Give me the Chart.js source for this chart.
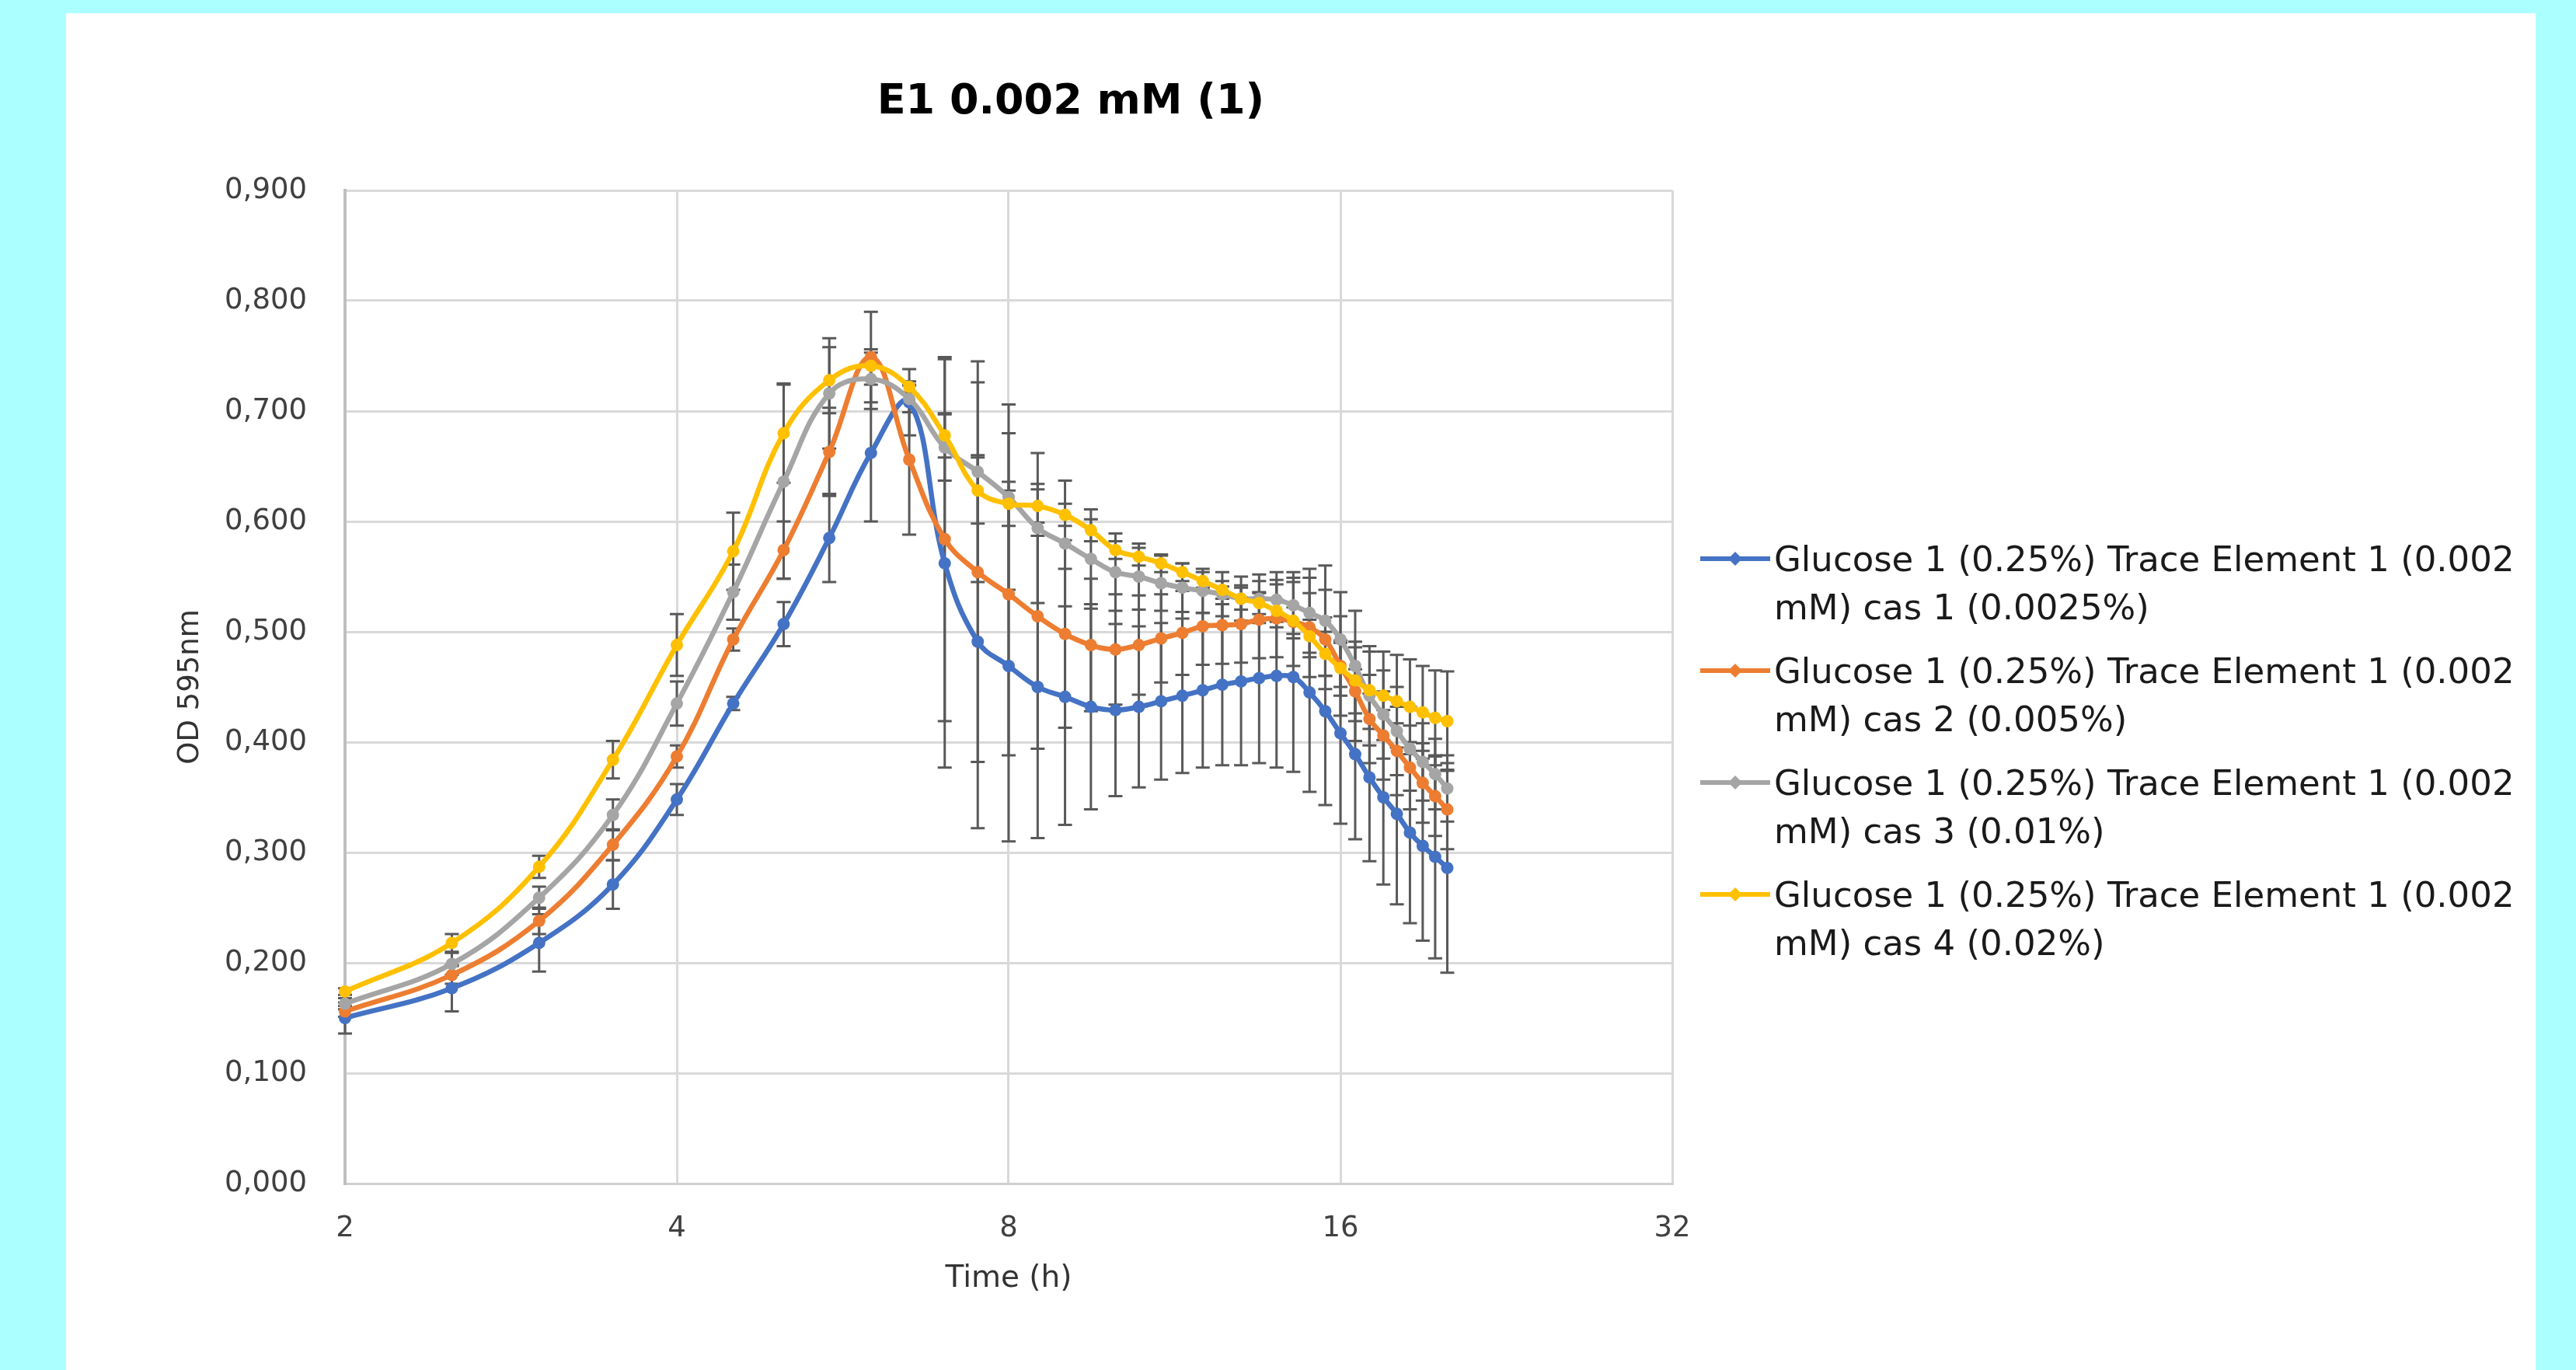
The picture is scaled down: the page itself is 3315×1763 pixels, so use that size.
<!DOCTYPE html>
<html>
<head>
<meta charset="utf-8">
<title>E1 0.002 mM (1)</title>
<script src="https://cdn.jsdelivr.net/npm/chart.js@4.4.1/dist/chart.umd.min.js"></script>
<style>
  html, body { margin: 0; padding: 0; background: #abffff; overflow: hidden; }
  #panel { position: absolute; left: 85px; top: 17px; width: 3178px; height: 1746px; background: #fff; }
  #chart { display: block; }
</style>
</head>
<body>
<div id="panel"><canvas id="chart" width="3178" height="1746"></canvas></div>
<script>
const chartTitle = "E1 0.002 mM (1)";
const xTitle = "Time (h)";
const yTitle = "OD 595nm";

// time points (h)
const hours = [2, 2.5, 3, 3.5, 4, 4.5, 5, 5.5, 6, 6.5, 7, 7.5, 8, 8.5, 9, 9.5, 10, 10.5, 11, 11.5,
  12, 12.5, 13, 13.5, 14, 14.5, 15, 15.5, 16, 16.5, 17, 17.5, 18, 18.5, 19, 19.5, 20];
const xTicks = [2, 4, 8, 16, 32];

const seriesNames = [
  "Glucose 1 (0.25%) Trace Element 1 (0.002 mM) cas 1 (0.0025%)",
  "Glucose 1 (0.25%) Trace Element 1 (0.002 mM) cas 2 (0.005%)",
  "Glucose 1 (0.25%) Trace Element 1 (0.002 mM) cas 3 (0.01%)",
  "Glucose 1 (0.25%) Trace Element 1 (0.002 mM) cas 4 (0.02%)"
];

// OD 595nm means
const cas1 = [0.150, 0.177, 0.218, 0.271, 0.348, 0.435, 0.507, 0.585, 0.662, 0.708, 0.562, 0.491, 0.469, 0.450,
  0.441, 0.432, 0.429, 0.432, 0.437, 0.442, 0.447, 0.452, 0.455, 0.458, 0.460, 0.459, 0.445, 0.428, 0.408,
  0.389, 0.368, 0.350, 0.335, 0.318, 0.306, 0.296, 0.286];
const cas2 = [0.156, 0.189, 0.238, 0.307, 0.387, 0.493, 0.574, 0.663, 0.749, 0.656, 0.584, 0.554, 0.534, 0.514,
  0.498, 0.488, 0.484, 0.488, 0.494, 0.499, 0.505, 0.506, 0.507, 0.511, 0.512, 0.509, 0.504, 0.493, 0.469,
  0.446, 0.421, 0.406, 0.392, 0.377, 0.363, 0.351, 0.339];
const cas3 = [0.163, 0.199, 0.259, 0.334, 0.435, 0.536, 0.636, 0.716, 0.729, 0.711, 0.667, 0.645, 0.622, 0.594,
  0.580, 0.566, 0.554, 0.550, 0.544, 0.540, 0.537, 0.534, 0.530, 0.530, 0.529, 0.524, 0.517, 0.510, 0.493,
  0.469, 0.442, 0.425, 0.410, 0.394, 0.382, 0.371, 0.358];
const cas4 = [0.174, 0.218, 0.287, 0.384, 0.488, 0.573, 0.680, 0.728, 0.741, 0.722, 0.678, 0.628, 0.616, 0.614,
  0.606, 0.592, 0.574, 0.568, 0.562, 0.554, 0.546, 0.538, 0.530, 0.526, 0.519, 0.510, 0.496, 0.480, 0.467,
  0.456, 0.447, 0.442, 0.437, 0.432, 0.427, 0.422, 0.419];

// standard deviations
const cas1Err = [0.014, 0.021, 0.026, 0.022, 0.014, 0.006, 0.02, 0.04, 0.062, 0.03, 0.185, 0.169, 0.159, 0.137,
  0.116, 0.093, 0.078, 0.073, 0.071, 0.07, 0.07, 0.073, 0.076, 0.077, 0.083, 0.086, 0.09, 0.085, 0.082,
  0.077, 0.076, 0.079, 0.082, 0.082, 0.086, 0.092, 0.095];
const cas2Err = [0.005, 0.008, 0.012, 0.014, 0.01, 0.01, 0.026, 0.04, 0.041, 0.068, 0.165, 0.172, 0.146, 0.12,
  0.085, 0.06, 0.05, 0.045, 0.04, 0.038, 0.035, 0.035, 0.035, 0.035, 0.035, 0.04, 0.045, 0.045, 0.045,
  0.045, 0.04, 0.04, 0.04, 0.038, 0.036, 0.036, 0.036];
const cas3Err = [0.005, 0.01, 0.01, 0.014, 0.02, 0.025, 0.088, 0.05, 0.027, 0.012, 0.03, 0.1, 0.084, 0.068,
  0.057, 0.045, 0.035, 0.03, 0.025, 0.022, 0.02, 0.02, 0.02, 0.022, 0.025, 0.03, 0.04, 0.05, 0.043,
  0.05, 0.045, 0.04, 0.04, 0.038, 0.035, 0.032, 0.03];
const cas4Err = [0.003, 0.008, 0.01, 0.017, 0.028, 0.035, 0.045, 0.03, 0.012, 0.005, 0.02, 0.03, 0.02, 0.015,
  0.01, 0.01, 0.008, 0.008, 0.008, 0.008, 0.008, 0.008, 0.01, 0.01, 0.01, 0.012, 0.015, 0.02, 0.025,
  0.03, 0.035, 0.04, 0.042, 0.043, 0.042, 0.043, 0.045];

const seriesValues = [cas1, cas2, cas3, cas4];
const seriesErrors = [cas1Err, cas2Err, cas3Err, cas4Err];
const colors = ["#4472C4", "#ED7D31", "#A5A5A5", "#FFC000"];

Chart.defaults.font.family = '"DejaVu Sans", sans-serif';

// legend sample: short line with a marker, like Excel
function legendIcon(color) {
  const c = document.createElement("canvas");
  c.width = 90;
  c.height = 20;
  const g = c.getContext("2d");
  g.strokeStyle = color;
  g.lineWidth = 6;
  g.beginPath();
  g.moveTo(0, 10);
  g.lineTo(90, 10);
  g.stroke();
  g.fillStyle = color;
  g.beginPath();
  g.moveTo(45, 1);
  g.lineTo(54, 10);
  g.lineTo(45, 19);
  g.lineTo(36, 10);
  g.closePath();
  g.fill();
  return c;
}
const legendIcons = colors.map(legendIcon);

// split the long names the way Excel wraps them
function wrapName(name) {
  const cut = name.indexOf(" mM)");
  return [name.slice(0, cut), name.slice(cut + 1)];
}

const errorBars = {
  id: "errorBars",
  beforeDatasetsDraw(chart) {
    const { ctx, scales: { x, y } } = chart;
    ctx.save();
    ctx.strokeStyle = "#595959";
    ctx.lineWidth = 3;
    seriesValues.forEach((values, s) => {
      values.forEach((v, i) => {
        const err = seriesErrors[s][i];
        const px = x.getPixelForValue(hours[i]);
        const top = y.getPixelForValue(v + err);
        const bottom = y.getPixelForValue(v - err);
        ctx.beginPath();
        ctx.moveTo(px, top);
        ctx.lineTo(px, bottom);
        ctx.moveTo(px - 9, top);
        ctx.lineTo(px + 9, top);
        ctx.moveTo(px - 9, bottom);
        ctx.lineTo(px + 9, bottom);
        ctx.stroke();
      });
    });
    ctx.restore();
  }
};

// title and the wrapped legend, placed like the Excel chart
const textPlugin = {
  id: "excelText",
  afterDraw(chart) {
    const { ctx, chartArea } = chart;
    ctx.save();
    ctx.font = 'bold 54px "DejaVu Sans"';
    ctx.fillStyle = "#000000";
    ctx.textAlign = "center";
    ctx.textBaseline = "alphabetic";
    ctx.fillText(chartTitle, 1293, 129);

    ctx.font = '45px "DejaVu Sans"';
    ctx.fillStyle = "#1a1a1a";
    ctx.textAlign = "left";
    const left = chartArea.right + 36;
    seriesNames.forEach((name, i) => {
      const mid = chartArea.top + 474 + i * 144;
      ctx.drawImage(legendIcons[i], left, mid - 10);
      wrapName(name).forEach((line, k) => {
        ctx.fillText(line, left + 95, mid + 16 + k * 62);
      });
    });
    ctx.restore();
  }
};

const datasets = seriesValues.map((values, i) => ({
  label: seriesNames[i],
  data: values,
  borderColor: colors[i],
  backgroundColor: colors[i],
  pointBackgroundColor: colors[i],
  borderWidth: 6.5,
  pointRadius: 8,
  pointHoverRadius: 8,
  pointBorderWidth: 0,
  tension: 0.4,
  clip: false,
  order: seriesValues.length - i
}));

const config = {
  type: "line",
  data: { labels: hours, datasets: datasets },
  options: {
    responsive: false,
    animation: false,
    devicePixelRatio: 1,
    events: [],
    layout: { padding: { top: 228, bottom: 47, left: 0, right: 1111 } },
    plugins: {
      title: { display: false },
      tooltip: { enabled: false },
      legend: { display: false }
    },
    scales: {
      x: {
        type: "logarithmic",
        min: 2,
        max: 32,
        afterBuildTicks(scale) {
          scale.ticks = xTicks.map(v => ({ value: v }));
        },
        afterFit(scale) { scale.height = 193; },
        ticks: {
          callback: v => String(v),
          font: { size: 37 },
          color: "#404040",
          padding: 36,
          maxRotation: 0
        },
        grid: { color: "#d9d9d9", lineWidth: 3, drawTicks: false },
        border: { color: "#d0d0d0", width: 3 },
        title: {
          display: true,
          text: xTitle,
          font: { size: 39 },
          color: "#333333",
          padding: { top: 0, bottom: 47 }
        }
      },
      y: {
        type: "linear",
        min: 0,
        max: 0.9,
        afterFit(scale) { scale.width = 359; },
        ticks: {
          stepSize: 0.1,
          callback: v => v.toFixed(3).replace(".", ","),
          font: { size: 37 },
          color: "#404040",
          padding: 49
        },
        grid: { color: "#d9d9d9", lineWidth: 3, drawTicks: false },
        border: { color: "#bfbfbf", width: 4 },
        title: {
          display: true,
          text: yTitle,
          font: { size: 37 },
          color: "#333333",
          padding: { top: 138, bottom: 0 }
        }
      }
    }
  },
  plugins: [errorBars, textPlugin]
};

new Chart(document.getElementById("chart"), config);
</script>
</body>
</html>
